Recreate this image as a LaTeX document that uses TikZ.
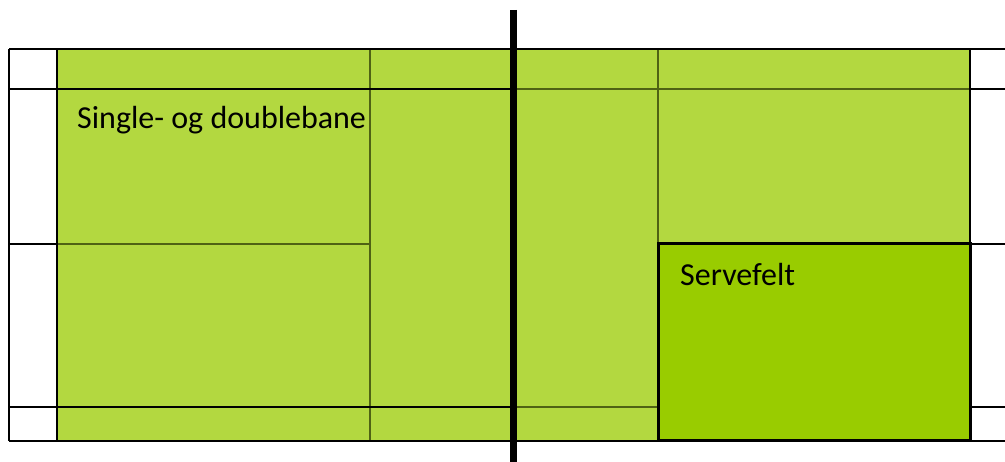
\documentclass[tikz,border=0pt]{standalone}
\usepackage{fontspec}
\setmainfont{Carlito}
\usepackage{tikz}
\usetikzlibrary{positioning}

\definecolor{courtgreen}{RGB}{179,216,64}
\definecolor{servegreen}{RGB}{153,204,0}
\definecolor{olive}{RGB}{79,98,20}

\tikzset{
	line/.style={black, line width=1.6pt},
	inner line/.style={olive, line width=1.6pt},
	label/.style={anchor=base west, inner sep=0pt, font=\fontsize{32}{38}\selectfont}
}

\begin{document}
\begin{tikzpicture}[x=1pt, y=-1pt]

\useasboundingbox (0,0) rectangle (1005,462);

\def \xl{9}    % outer left
\def \xs{57}   % single side line
\def \xm{370}  % middle line
\def \xn{513}  % net
\def \xr{658}  % service line right
\def \xe{970}  % end of court
\def \xo{1005} % right edge

\def \yt{49}
\def \yd{89}
\def \yc{244}
\def \yu{407}
\def \yb{441}

% court fills
\fill[courtgreen] (\xs,\yt) rectangle (\xe,\yb);
\fill[servegreen] (\xr,\yc) rectangle (\xe,\yb);

% inner court lines
\draw[inner line] (\xm,\yt) -- (\xm,440); % middle line
\draw[inner line] (\xr,\yt) -- (\xr,\yc);
\draw[inner line] (\xs,\yc) -- (\xm,\yc);
\draw[inner line] (\xn,\yd) -- (\xe,\yd);
\draw[inner line] (\xn,\yu) -- (\xr,\yu);

% outer lines
\draw[line] (\xl,\yt) -- (\xo,\yt); % top
\draw[line] (\xl,\yb) -- (\xo,\yb); % bottom
\draw[line] (\xl,\yt) -- (\xl,\yb);
\draw[line] (\xs,\yt) -- (\xs,\yb);
\draw[line] (\xe,\yt) -- (\xe,\yc);
\foreach \y in {\yd, \yu} {
	\draw[line] (\xl,\y) -- (\xn,\y); % left part
	\draw[line] (\xe,\y) -- (\xo,\y); % right part
}
\draw[line] (\xl,\yc) -- (\xs,\yc);
\draw[line] (\xe,\yc) -- (\xo,\yc);

% service box
\draw[black, line width=3pt] (\xr,\yc) rectangle (\xe,\yb);

% net
\draw[black, line width=7pt] (\xn,10) -- (\xn,462);

\node[label] (single) at (77,129) {Single- og doublebane};
\node[label] (serve)  at (680,286) {Servefelt};

\end{tikzpicture}
\end{document}
